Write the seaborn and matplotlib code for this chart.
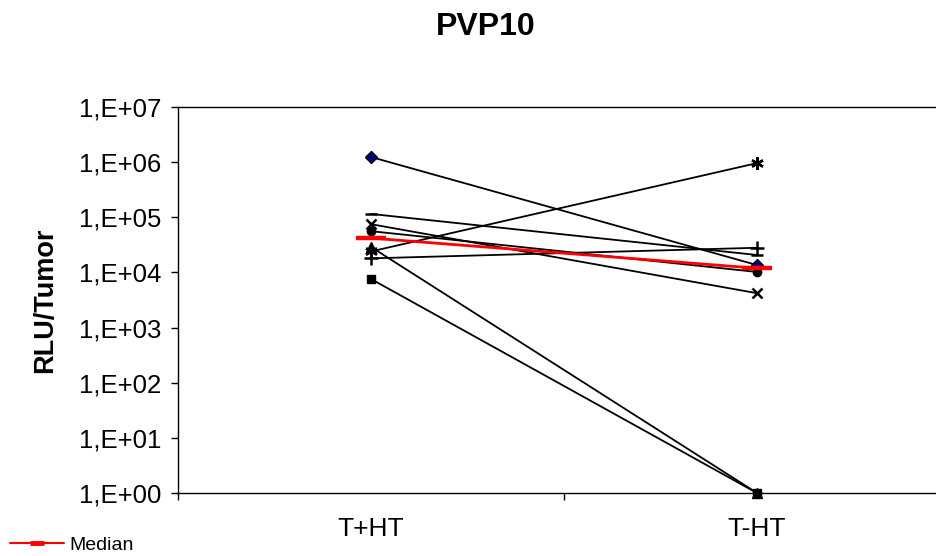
import numpy as np
import pandas as pd
import matplotlib
matplotlib.use("Agg")
import matplotlib.pyplot as plt
from matplotlib.lines import Line2D
from matplotlib.ticker import FixedLocator, FuncFormatter, NullLocator
import seaborn as sns

# valores (RLU/Tumor)
conditions = ["T+HT", "T-HT"]
s_diamond = [1.24e6, 1.36e4]
s_square = [7.6e3, 1.0]
s_triangle = [2.9e4, 1.0]
s_x = [7.5e4, 4.2e3]
s_asterisk = [2.4e4, 9.6e5]
s_circle = [5.6e4, 1.02e4]
s_plus = [1.8e4, 2.8e4]
s_dash = [1.15e5, 2.07e4]
median = [4.2e4, 1.19e4]

sns.set_style("ticks")
plt.rcParams["font.family"] = ["Liberation Sans", "DejaVu Sans"]
plt.rcParams["text.color"] = "black"
plt.rcParams["axes.labelcolor"] = "black"
plt.rcParams["xtick.color"] = "black"
plt.rcParams["ytick.color"] = "black"

fig = plt.figure(figsize=(9.36, 5.56), dpi=100)
ax = fig.add_axes([178 / 936, 63 / 556, 772 / 936, 386 / 556])

series = [
    (s_diamond, "D", "#000080", 6),
    (s_square, "s", "black", 6),
    (s_triangle, "^", "black", 7),
    (s_x, "x", "black", 7),
    (s_asterisk, (6, 2, 0), "black", 9),
    (s_circle, "o", "black", 6),
    (s_plus, "+", "black", 10),
    (s_dash, "_", "black", 8),
]

for vals, mk, face, ms in series:
    df = pd.DataFrame({"Condicao": conditions, "RLU": vals})
    sns.lineplot(data=df, x="Condicao", y="RLU", ax=ax, color="black",
                 linewidth=1.3, marker=mk, markersize=ms,
                 markerfacecolor=face, markeredgecolor="black",
                 markeredgewidth=1.8 if mk in ("x", "+", "_", (6, 2, 0)) else 1.0,
                 clip_on=False, zorder=3)

df_med = pd.DataFrame({"Condicao": conditions, "RLU": median})
sns.lineplot(data=df_med, x="Condicao", y="RLU", ax=ax, color="red",
             linewidth=2.0, marker="_", markersize=21, markeredgewidth=3.2,
             markeredgecolor="red", clip_on=False, zorder=4)

ax.set_yscale("log")
ax.set_ylim(1, 1e7)
ax.set_xlim(-0.5, 1.5)
ax.yaxis.set_major_locator(FixedLocator([10.0 ** k for k in range(8)]))
ax.yaxis.set_minor_locator(NullLocator())
ax.yaxis.set_major_formatter(
    FuncFormatter(lambda v, p: "1,E+%02d" % int(round(np.log10(v)))))
ax.set_xticks([0, 1])
ax.set_xticklabels(conditions)
ax.set_xticks([-0.5, 0.5, 1.5], minor=True)
ax.tick_params(axis="x", which="major", length=0, pad=17, labelsize=19,
               labelcolor="black")
ax.tick_params(axis="x", which="minor", length=5, width=1, direction="out",
               color="black")
ax.tick_params(axis="y", length=5, width=1, direction="out", pad=7,
               labelsize=18.5, color="black", labelcolor="black")
for sp in ax.spines.values():
    sp.set_linewidth(1)
    sp.set_color("black")
    sp.set_visible(True)
ax.set_xlabel("")
ax.set_ylabel("")
ax.grid(False)

fig.text(486 / 936, 1 - 27 / 556, "PVP10", ha="center", va="center",
         fontsize=23, fontweight="bold", color="black")
fig.text(45 / 936, 1 - 300 / 556, "RLU/Tumor", ha="center", va="center",
         rotation=90, fontsize=19.5, fontweight="bold", color="black")

handle = Line2D([], [], color="red", linewidth=1.5, marker="_",
                markersize=10, markeredgewidth=3.5)
fig.legend([handle], ["Median"], loc="center left",
           bbox_to_anchor=(10 / 936, 1 - 545 / 556), frameon=False,
           fontsize=14, handlelength=2.8, handletextpad=0.25,
           borderpad=0, borderaxespad=0, labelcolor="black")

fig.savefig("out.png", dpi=100)
